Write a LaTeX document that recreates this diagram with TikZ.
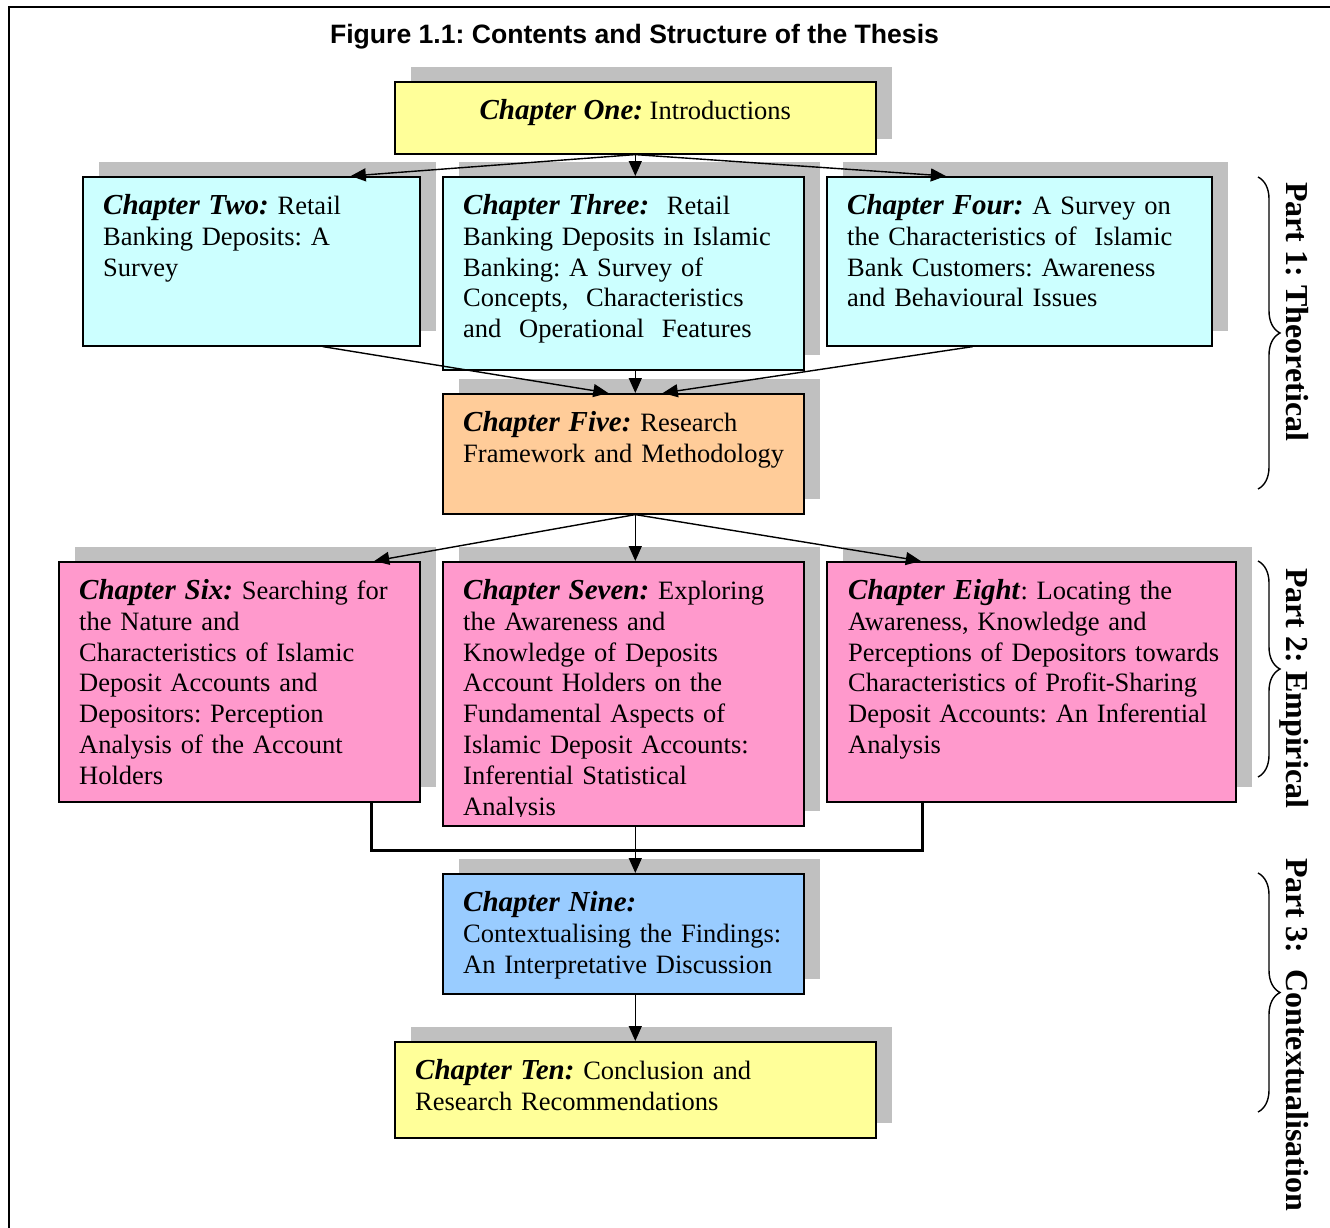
\documentclass[tikz,border=0pt]{standalone}
\usepackage{fontspec}
\setmainfont{Liberation Serif}
\newfontfamily\titlefont{Liberation Sans}
\usetikzlibrary{arrows.meta,shadows,decorations.pathreplacing}

\definecolor{yellowbox}{HTML}{FFFF99}
\definecolor{cyanbox}{HTML}{CCFFFF}
\definecolor{orangebox}{HTML}{FFCC99}
\definecolor{pinkbox}{HTML}{FF99CC}
\definecolor{bluebox}{HTML}{99CCFF}
\definecolor{shadowgray}{HTML}{C0C0C0}

\newcommand\boxfont{\fontsize{26.5}{30.8}\selectfont\frenchspacing}
\newcommand\partfont{\fontsize{32}{36}\selectfont\bfseries\frenchspacing}
\newcommand\chap[1]{{\fontsize{29}{30.8}\selectfont\textbf{\textit{#1}}}}

\begin{document}
\frenchspacing
\begin{tikzpicture}[x=1pt,y=-1pt,
  chbox/.style={draw=black, line width=1.6pt, rectangle, anchor=north west, inner sep=0pt,
    drop shadow={shadow xshift=16pt, shadow yshift=15pt, fill=shadowgray, opacity=1}},
  chtext/.style={anchor=base west, inner sep=0pt, align=left, font=\boxfont},
  link/.style={line width=1.4pt, -{Triangle[length=15pt,width=13pt]}},
  joinline/.style={line width=3pt},
  partbrace/.style={decorate, decoration={brace, amplitude=22pt}, line width=1.4pt},
  partlabel/.style={rotate=-90, anchor=base west, inner sep=0pt, font=\partfont}]

\clip (0,0) rectangle (1330,1227);
\fill[white] (0,0) rectangle (1330,1227);

% outer frame
\draw[line width=1.8pt] (9,1240) -- (9,7) -- (1340,7);

% title
\node[anchor=base, inner sep=0pt, font=\titlefont\bfseries\fontsize{26.6}{30}\selectfont]
  (title) at (634.5,43) {Figure 1.1: Contents and Structure of the Thesis};

% chapter boxes
\node[chbox, fill=yellowbox, minimum width=481pt, minimum height=72pt]  (c1)  at (394,81)  {};
\node[chbox, fill=cyanbox,   minimum width=337pt, minimum height=169pt] (c2)  at (82,176)  {};
\node[chbox, fill=cyanbox,   minimum width=361pt, minimum height=193pt] (c3)  at (442,176) {};
\node[chbox, fill=cyanbox,   minimum width=385pt, minimum height=169pt] (c4)  at (826,176) {};
\node[chbox, fill=orangebox, minimum width=361pt, minimum height=120pt] (c5)  at (442,393) {};
\node[chbox, fill=pinkbox,   minimum width=361pt, minimum height=240pt] (c6)  at (58,561)  {};
\node[chbox, fill=pinkbox,   minimum width=361pt, minimum height=264pt] (c7)  at (442,561) {};
\node[chbox, fill=pinkbox,   minimum width=409pt, minimum height=240pt] (c8)  at (826,561) {};
\node[chbox, fill=bluebox,   minimum width=361pt, minimum height=120pt] (c9)  at (442,873) {};
\node[chbox, fill=yellowbox, minimum width=481pt, minimum height=96pt]  (c10) at (394,1041) {};

% chapter texts
\node[anchor=base, inner sep=0pt, font=\boxfont] (t1) at ([yshift=-38pt]c1.north)
  {\chap{Chapter One:} Introductions};
\node[chtext, text width=312pt] (t2) at ([xshift=21pt,yshift=-38.5pt]c2.north west)
  {\chap{Chapter Two:} Retail\\Banking Deposits: A\\Survey};
\node[chtext, text width=336pt] (t3) at ([xshift=21pt,yshift=-38.5pt]c3.north west)
  {\chap{Chapter Three:}\ \ Retail\\Banking Deposits in Islamic\\Banking: A Survey of\\Concepts,\ \ Characteristics\\and\ \ Operational\ \ Features};
\node[chtext, text width=360pt] (t4) at ([xshift=21pt,yshift=-38.5pt]c4.north west)
  {\chap{Chapter Four:} A Survey on\\the Characteristics of\ \ Islamic\\Bank Customers: Awareness\\and Behavioural Issues};
\node[chtext, text width=336pt] (t5) at ([xshift=21pt,yshift=-38.5pt]c5.north west)
  {\chap{Chapter Five:} Research\\Framework and Methodology};
\node[chtext, text width=336pt] (t6) at ([xshift=21pt,yshift=-38.5pt]c6.north west)
  {\chap{Chapter Six:} Searching for\\the Nature and\\Characteristics of Islamic\\Deposit Accounts and\\Depositors: Perception\\Analysis of the Account\\Holders};
\begin{scope}
  \clip ([yshift=10pt]c7.south west) rectangle (c7.north east);
  \node[chtext, text width=336pt] (t7) at ([xshift=21pt,yshift=-38.5pt]c7.north west)
    {\chap{Chapter Seven:} Exploring\\the Awareness and\\Knowledge of Deposits\\Account Holders on the\\Fundamental Aspects of\\Islamic Deposit Accounts:\\Inferential Statistical\\Analysis};
\end{scope}
\node[chtext, text width=384pt] (t8) at ([xshift=22pt,yshift=-38.5pt]c8.north west)
  {\chap{Chapter Eight}: Locating the\\Awareness, Knowledge and\\Perceptions of Depositors towards\\Characteristics of Profit-Sharing\\Deposit Accounts: An Inferential\\Analysis};
\node[chtext, text width=336pt] (t9) at ([xshift=21pt,yshift=-38.5pt]c9.north west)
  {\chap{Chapter Nine:}\\Contextualising the Findings:\\An Interpretative Discussion};
\node[chtext, text width=456pt] (t10) at ([xshift=21pt,yshift=-38.5pt]c10.north west)
  {\chap{Chapter Ten:} Conclusion and\\Research Recommendations};

% connectors
\draw[link] (c1.south) -- ([xshift=99.5pt]c2.north);
\draw[link] (c1.south) -- ([xshift=12pt]c3.north);
\draw[link] (c1.south) -- ([xshift=-73.5pt]c4.north);

\draw[link] ([xshift=71.5pt]c2.south) -- ([xshift=-15pt]c5.north);
\draw[link] ([xshift=12pt]c3.south) -- ([xshift=12pt]c5.north);
\draw[link] ([xshift=-46.5pt]c4.south) -- ([xshift=39.5pt]c5.north);

\draw[link] ([xshift=12pt]c5.south) -- ([xshift=135pt]c6.north);
\draw[link] ([xshift=12pt]c5.south) -- ([xshift=12pt]c7.north);
\draw[link] ([xshift=12pt]c5.south) -- ([xshift=-110.5pt]c8.north);

\draw[joinline] ([xshift=132.5pt]c6.south) -- ++(0,48) -| ([xshift=-108.5pt]c8.south);
\draw[link] ([xshift=12pt]c7.south) -- ([xshift=12pt]c9.north);
\draw[link] ([xshift=12pt]c9.south) -- (c10.north);

% part braces and labels
\draw[partbrace] (1258,177) -- (1258,489);
\draw[partbrace] (1258,561) -- (1258,777);
\draw[partbrace] (1258,873) -- (1258,1112);
\node[partlabel] (p1) at (1286,182) {Part 1: Theoretical};
\node[partlabel] (p2) at (1286,568) {Part 2: Empirical};
\node[partlabel] (p3) at (1286,858) {Part 3:\ \ Contextualisation};
\end{tikzpicture}
\end{document}
